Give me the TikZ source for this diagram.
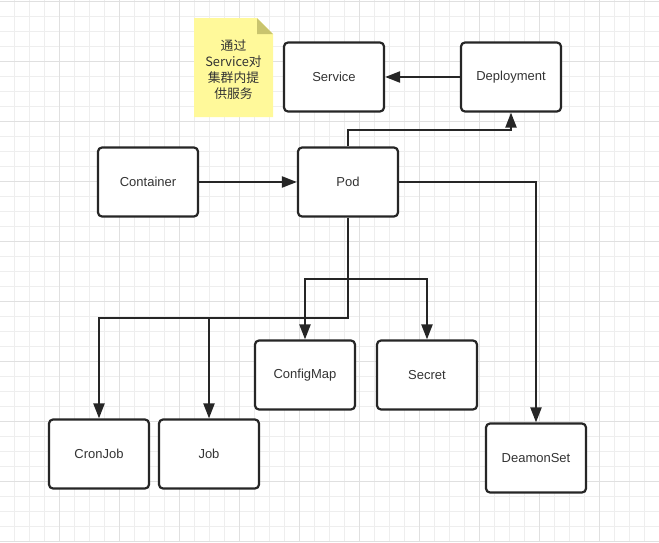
\documentclass[tikz,border=0pt]{standalone}
\usepackage{fontspec}
\setmainfont{Liberation Sans}
\newfontfamily\cjk{Noto Sans CJK SC}
\usetikzlibrary{arrows.meta}
\definecolor{ink}{HTML}{262626}
\definecolor{txt}{HTML}{333333}
\definecolor{gridminor}{HTML}{EEEEEE}
\definecolor{gridmajor}{HTML}{E0E0E0}
\definecolor{notefill}{HTML}{FFF99A}
\definecolor{notefold}{HTML}{C9C46E}
\begin{document}
\begin{tikzpicture}[x=1pt,y=-1pt,
  box/.style={draw=ink,line width=2.2pt,rounded corners=4pt,fill=white,
    minimum width=100pt,minimum height=69pt,inner sep=0pt,
    font=\fontsize{13}{15}\selectfont,text=txt},
  arr/.style={draw=ink,line width=2.2pt,-{Triangle[length=15pt,width=11pt]}}]
\useasboundingbox (0,0) rectangle (659,542);
\fill[white] (0,0) rectangle (659,542);
% grid
\foreach \i in {0,...,44}{
  \pgfmathsetmacro{\gx}{14.3+15*\i}
  \draw[gridminor,line width=0.8pt] (\gx,0) -- (\gx,542);
}
\foreach \i in {0,...,36}{
  \pgfmathsetmacro{\gy}{1+15*\i}
  \draw[gridminor,line width=0.8pt] (0,\gy) -- (659,\gy);
}
\foreach \i in {0,...,10}{
  \pgfmathsetmacro{\gx}{59.3+60*\i}
  \draw[gridmajor,line width=0.9pt] (\gx,0) -- (\gx,542);
}
\foreach \i in {0,...,9}{
  \pgfmathsetmacro{\gy}{1+60*\i}
  \draw[gridmajor,line width=0.9pt] (0,\gy) -- (659,\gy);
}
% note
\fill[notefill] (194,18) -- (257,18) -- (273,34) -- (273,117) -- (194,117) -- cycle;
\fill[notefold] (257,18) -- (273,34) -- (257,34) -- cycle;
\node[align=center,text=txt,font=\cjk\fontsize{12.8}{16.2}\selectfont,inner sep=0pt] (note) at (233.5,69.5) {通过\\Service对\\集群内提\\供服务};
% boxes
\node[box] (svc) at (334,77) {Service};
\node[box] (dep) at (511,77) {Deployment};
\node[box] (con) at (148,182) {Container};
\node[box] (pod) at (348,182) {Pod};
\node[box] (cfg) at (305,375) {ConfigMap};
\node[box] (sec) at (427,375) {Secret};
\node[box] (cron) at (99,454) {CronJob};
\node[box] (job) at (209,454) {Job};
\node[box] (dms) at (536,458) {DeamonSet};
% junctions
\coordinate (j1) at (348,130);
\coordinate (s1) at (348,318);
\coordinate (s2) at (348,279);
% connectors
\draw[arr] (dep.west) -- (svc.east);
\draw[arr] (pod.north) -- (j1) -| (dep.south);
\draw[arr] (con.east) -- (pod.west);
\draw[arr] (pod.east) -| (dms.north);
\draw[arr] (pod.south) -- (s1) -| (cron.north);
\draw[arr] (s1) -| (job.north);
\draw[arr] (s2) -| (cfg.north);
\draw[arr] (s2) -| (sec.north);
\end{tikzpicture}
\end{document}
